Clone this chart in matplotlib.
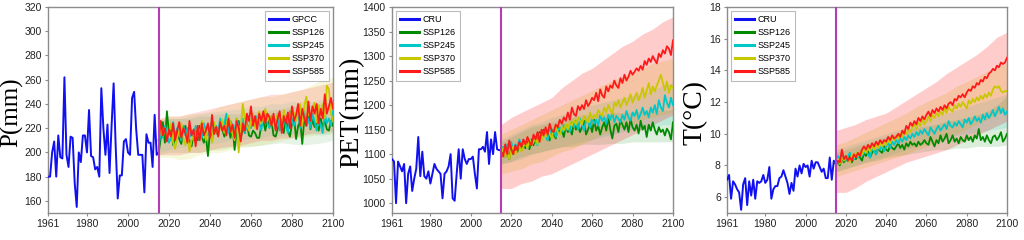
import matplotlib
matplotlib.use("Agg")
import matplotlib.pyplot as plt
import numpy as np

plt.rcParams["font.family"] = ["Liberation Sans", "DejaVu Sans"]

# %% Data.
obs_years = np.arange(1961, 2016)
ssp_years = np.arange(2015, 2101)
band_years = np.arange(2015, 2101, 5)
scenarios = ["SSP126", "SSP245", "SSP370", "SSP585"]

# Precipitation (mm)
p_obs = [180, 180, 200, 209, 180, 214, 196, 195, 262, 198,
         188, 213, 212, 175, 155, 200, 192, 214, 214, 200,
         235, 197, 196, 186, 188, 180, 253, 220, 198, 223,
         183, 222, 257, 205, 162, 181, 181, 209, 211, 200,
         198, 245, 250, 219, 198, 198, 198, 167, 215, 208,
         208, 188, 231, 198, 200]
p_126 = [200, 212, 225, 208, 234, 215, 222, 206, 212, 218,
         211, 207, 218, 222, 212, 210, 205, 215, 220, 210,
         222, 213, 208, 214, 197, 218, 210, 222, 217, 214,
         225, 219, 213, 228, 220, 212, 222, 202, 218, 226,
         212, 220, 216, 225, 214, 213, 218, 216, 212, 212,
         222, 226, 218, 228, 221, 226, 214, 213, 219, 226,
         222, 216, 230, 218, 213, 224, 229, 211, 222, 226,
         207, 228, 222, 234, 219, 227, 221, 224, 218, 228,
         221, 226, 219, 218, 226, 222]
p_245 = [205, 218, 212, 222, 215, 208, 212, 225, 214, 220,
         216, 210, 222, 214, 220, 212, 218, 210, 222, 216,
         219, 212, 224, 218, 214, 220, 226, 216, 222, 218,
         228, 220, 224, 232, 216, 226, 222, 218, 228, 222,
         220, 228, 216, 224, 230, 220, 226, 222, 230, 224,
         218, 228, 232, 224, 220, 230, 226, 222, 232, 218,
         226, 230, 222, 216, 234, 226, 222, 228, 232, 220,
         226, 234, 222, 228, 220, 232, 226, 218, 228, 222,
         216, 232, 224, 228, 222, 234]
p_370 = [210, 222, 214, 218, 212, 216, 224, 208, 203, 212,
         218, 224, 212, 206, 216, 201, 210, 214, 208, 220,
         213, 226, 218, 210, 221, 216, 208, 225, 219, 214,
         221, 227, 216, 223, 230, 224, 215, 210, 228, 200,
         220, 240, 228, 222, 218, 226, 232, 220, 227, 234,
         224, 230, 236, 226, 231, 222, 230, 225, 232, 228,
         219, 235, 227, 231, 223, 238, 232, 226, 234, 240,
         222, 238, 246, 231, 229, 236, 241, 225, 239, 232,
         240, 228, 255, 252, 232, 226]
p_585 = [210, 226, 214, 220, 209, 219, 213, 224, 210, 218,
         225, 212, 220, 216, 208, 226, 214, 219, 205, 222,
         210, 224, 214, 218, 224, 212, 231, 215, 221, 213,
         225, 218, 222, 214, 228, 217, 223, 212, 226, 220,
         209, 224, 218, 232, 226, 238, 222, 230, 219, 232,
         226, 234, 224, 232, 229, 222, 232, 218, 228, 234,
         216, 230, 224, 233, 220, 238, 226, 231, 240, 222,
         236, 228, 222, 242, 226, 238, 232, 240, 224, 236,
         228, 248, 232, 238, 245, 236]
p_lo = [[198, 200, 200, 200, 200, 202, 202, 204, 205, 205, 206, 207, 208, 207, 206, 207, 208, 210],
        [200, 202, 204, 205, 206, 207, 208, 210, 210, 212, 212, 214, 214, 215, 214, 215, 214, 216],
        [196, 196, 194, 195, 198, 200, 200, 202, 204, 205, 206, 208, 210, 212, 212, 214, 215, 215],
        [198, 198, 198, 200, 200, 202, 204, 205, 206, 208, 210, 210, 212, 212, 214, 216, 216, 218]]
p_hi = [[226, 228, 228, 228, 230, 230, 232, 232, 232, 234, 234, 235, 236, 238, 238, 240, 240, 240],
        [226, 228, 228, 230, 232, 233, 234, 235, 236, 238, 238, 240, 240, 242, 242, 242, 244, 245],
        [228, 230, 230, 232, 232, 234, 238, 240, 242, 244, 246, 246, 248, 250, 252, 256, 260, 262],
        [228, 230, 230, 232, 234, 236, 238, 240, 242, 244, 246, 248, 248, 250, 252, 254, 256, 258]]

# Potential evapotranspiration (mm)
pet_obs = [1090, 1085, 1000, 1085, 1075, 1065, 1080, 1000, 1060, 1075,
           1025, 1050, 1070, 1135, 1055, 1105, 1055, 1050, 1065, 1040,
           1060, 1080, 1070, 1065, 1060, 1010, 1060, 1065, 1075, 1100,
           1010, 1005, 1060, 1110, 1050, 1110, 1090, 1080, 1090, 1090,
           1095, 1060, 1030, 1110, 1110, 1115, 1105, 1145, 1080, 1130,
           1100, 1145, 1110, 1108, 1108]
pet_126 = [1100, 1110, 1095, 1105, 1090, 1115, 1100, 1112, 1105, 1118,
           1108, 1120, 1112, 1125, 1110, 1130, 1118, 1135, 1125, 1145,
           1130, 1150, 1138, 1145, 1128, 1150, 1140, 1132, 1155, 1142,
           1150, 1135, 1158, 1145, 1152, 1140, 1165, 1150, 1160, 1145,
           1155, 1168, 1140, 1150, 1162, 1145, 1170, 1148, 1158, 1140,
           1155, 1165, 1148, 1175, 1150, 1132, 1158, 1162, 1145, 1170,
           1160, 1150, 1165, 1145, 1172, 1155, 1148, 1160, 1142, 1168,
           1150, 1158, 1135, 1160, 1148, 1165, 1150, 1140, 1155, 1145,
           1150, 1138, 1152, 1145, 1130, 1165]
pet_245 = [1105, 1115, 1102, 1120, 1112, 1125, 1108, 1120, 1115, 1130,
           1118, 1128, 1122, 1112, 1130, 1120, 1135, 1125, 1118, 1140,
           1130, 1145, 1135, 1128, 1150, 1140, 1152, 1135, 1148, 1155,
           1145, 1160, 1150, 1158, 1145, 1165, 1155, 1168, 1150, 1172,
           1160, 1148, 1170, 1165, 1155, 1175, 1162, 1170, 1158, 1180,
           1168, 1175, 1162, 1180, 1170, 1185, 1165, 1178, 1172, 1165,
           1180, 1170, 1188, 1175, 1168, 1185, 1178, 1190, 1172, 1182,
           1195, 1180, 1188, 1175, 1195, 1185, 1200, 1182, 1210, 1195,
           1188, 1220, 1205, 1195, 1215, 1200]
pet_370 = [1100, 1112, 1095, 1105, 1090, 1108, 1115, 1100, 1110, 1118,
           1105, 1115, 1125, 1112, 1130, 1118, 1125, 1135, 1120, 1140,
           1128, 1145, 1135, 1150, 1142, 1132, 1150, 1158, 1145, 1140,
           1155, 1148, 1162, 1150, 1165, 1158, 1170, 1160, 1175, 1168,
           1160, 1178, 1170, 1165, 1185, 1172, 1180, 1175, 1190, 1182,
           1178, 1195, 1185, 1200, 1190, 1182, 1205, 1198, 1210, 1195,
           1205, 1215, 1200, 1210, 1222, 1205, 1215, 1225, 1210, 1220,
           1235, 1215, 1230, 1245, 1222, 1238, 1228, 1240, 1250, 1262,
           1245, 1230, 1248, 1225, 1240, 1235]
pet_585 = [1105, 1095, 1120, 1100, 1128, 1110, 1100, 1118, 1108, 1125,
           1115, 1130, 1120, 1135, 1125, 1118, 1140, 1130, 1145, 1125,
           1150, 1138, 1155, 1140, 1162, 1148, 1145, 1160, 1155, 1170,
           1162, 1175, 1168, 1185, 1170, 1195, 1182, 1178, 1198, 1190,
           1200, 1192, 1210, 1198, 1205, 1215, 1210, 1225, 1208, 1232,
           1220, 1215, 1238, 1228, 1240, 1235, 1250, 1240, 1235, 1255,
           1245, 1262, 1250, 1258, 1270, 1262, 1268, 1275, 1270, 1280,
           1272, 1290, 1282, 1295, 1288, 1300, 1292, 1285, 1305, 1298,
           1312, 1305, 1320, 1315, 1302, 1332]
pet_lo = [[1080, 1085, 1095, 1100, 1105, 1110, 1115, 1115, 1120, 1120, 1120, 1122, 1122, 1125, 1125, 1125, 1125, 1125],
          [1080, 1085, 1090, 1100, 1105, 1110, 1115, 1120, 1125, 1130, 1135, 1140, 1145, 1150, 1150, 1155, 1160, 1160],
          [1060, 1065, 1070, 1080, 1085, 1095, 1105, 1110, 1120, 1130, 1140, 1145, 1155, 1160, 1170, 1175, 1180, 1185],
          [1030, 1030, 1040, 1045, 1055, 1060, 1070, 1080, 1090, 1100, 1110, 1120, 1130, 1140, 1150, 1160, 1170, 1180]]
pet_hi = [[1125, 1135, 1145, 1155, 1160, 1165, 1170, 1175, 1180, 1180, 1182, 1185, 1185, 1185, 1188, 1188, 1190, 1190],
          [1130, 1140, 1150, 1160, 1165, 1175, 1180, 1190, 1195, 1200, 1205, 1210, 1215, 1220, 1225, 1230, 1240, 1245],
          [1140, 1150, 1160, 1170, 1180, 1190, 1200, 1210, 1220, 1230, 1240, 1250, 1258, 1265, 1275, 1285, 1290, 1295],
          [1160, 1175, 1185, 1195, 1205, 1215, 1235, 1250, 1265, 1275, 1290, 1305, 1320, 1330, 1345, 1355, 1370, 1380]]

# Temperature (degC)
t_obs = [7.1, 7.4, 5.9, 7.0, 6.8, 6.5, 6.3, 5.2, 6.8, 7.2,
         5.5, 7.0, 6.1, 7.1, 5.9, 7.0, 6.9, 7.0, 7.4, 6.9,
         7.1, 7.9, 5.9, 6.5, 6.7, 6.7, 7.2, 7.3, 7.7, 7.3,
         6.9, 6.2, 6.9, 6.4, 7.8, 7.3, 8.0, 7.5, 8.1, 7.9,
         8.0, 7.3, 8.3, 7.8, 8.2, 8.2, 7.9, 7.6, 7.8, 7.2,
         7.2, 8.5, 7.1, 8.3, 8.1]
t_126 = [8.1, 8.3, 8.0, 8.5, 8.2, 8.4, 8.3, 8.6, 8.2, 8.5,
         8.4, 8.7, 8.5, 8.3, 8.8, 8.6, 8.9, 8.5, 8.8, 9.0,
         8.7, 9.1, 8.9, 8.8, 9.2, 9.0, 8.9, 9.3, 9.1, 9.0,
         9.2, 9.4, 9.1, 9.3, 9.0, 9.4, 9.2, 9.5, 9.3, 9.4,
         9.2, 9.5, 9.3, 9.4, 9.6, 9.4, 9.3, 9.8, 9.5, 9.2,
         9.6, 9.4, 9.9, 9.5, 9.7, 10.0, 9.4, 9.6, 9.9, 9.5,
         9.7, 9.4, 9.8, 9.6, 9.5, 9.9, 9.6, 9.8, 9.5, 9.9,
         9.7, 10.3, 9.6, 9.8, 9.5, 9.9, 9.6, 9.4, 9.8, 9.9,
         9.6, 9.8, 10.1, 9.5, 9.7, 10.0]
t_245 = [8.3, 8.6, 8.4, 8.7, 8.5, 8.3, 8.6, 8.8, 8.5, 8.4,
         8.7, 8.5, 8.9, 8.6, 8.8, 9.0, 8.7, 8.5, 9.1, 8.9,
         8.7, 9.1, 9.0, 9.3, 8.9, 9.2, 9.4, 9.1, 9.5, 9.3,
         9.6, 9.4, 9.7, 9.5, 9.8, 9.6, 9.9, 9.7, 10.0, 9.8,
         10.1, 9.9, 10.2, 10.0, 10.3, 10.1, 9.9, 10.4, 10.2, 10.0,
         10.3, 10.5, 10.2, 10.4, 10.6, 10.3, 10.8, 10.5, 10.4, 10.7,
         10.5, 10.8, 10.6, 10.4, 10.9, 10.7, 11.0, 10.6, 10.8, 11.1,
         10.8, 11.0, 10.7, 11.2, 10.9, 11.3, 11.0, 11.2, 11.5, 11.1,
         11.4, 11.7, 11.3, 11.6, 11.2, 11.4]
t_370 = [8.2, 8.4, 8.1, 8.5, 8.3, 8.6, 8.4, 8.2, 8.7, 8.5,
         8.8, 8.6, 8.9, 8.7, 9.0, 8.8, 9.1, 8.9, 9.2, 9.0,
         9.3, 9.1, 9.4, 9.2, 9.5, 9.3, 9.6, 9.4, 9.8, 9.6,
         9.9, 9.7, 10.0, 9.8, 10.2, 10.0, 10.3, 10.1, 10.4, 10.6,
         10.3, 10.7, 10.5, 10.9, 10.6, 10.8, 11.1, 10.8, 11.2, 11.0,
         11.3, 11.1, 11.4, 11.2, 11.6, 11.3, 11.7, 11.5, 11.4, 11.8,
         11.6, 11.9, 11.7, 12.0, 11.8, 11.6, 12.1, 11.9, 12.2, 12.0,
         12.3, 12.1, 12.4, 12.2, 12.5, 12.3, 12.6, 12.4, 12.8, 13.0,
         12.9, 13.0, 12.7, 12.6, 12.7, 12.7]
t_585 = [8.0, 8.3, 8.2, 9.0, 8.4, 8.6, 8.3, 8.5, 8.3, 8.7,
         8.5, 8.8, 8.6, 9.0, 9.2, 9.0, 9.3, 9.1, 9.4, 9.2,
         9.5, 9.3, 9.6, 9.4, 9.6, 9.5, 9.8, 9.6, 9.9, 9.7,
         9.8, 10.0, 9.8, 10.2, 10.0, 10.5, 10.3, 10.7, 10.5, 10.8,
         10.6, 11.0, 10.8, 11.1, 10.9, 11.2, 11.4, 11.1, 11.5, 11.3,
         11.6, 11.4, 11.7, 11.5, 11.8, 11.6, 11.9, 12.0, 11.8, 12.2,
         12.1, 12.4, 12.3, 12.5, 12.3, 12.6, 12.8, 12.7, 13.0, 12.9,
         13.2, 13.1, 13.4, 13.3, 13.6, 13.5, 13.8, 13.9, 14.1, 14.0,
         14.3, 14.2, 14.5, 14.4, 14.5, 14.8]
t_lo = [[7.6, 7.8, 8.0, 8.2, 8.3, 8.5, 8.6, 8.7, 8.8, 8.9, 9.0, 9.0, 9.1, 9.1, 9.2, 9.2, 9.2, 9.3],
        [7.6, 7.8, 8.0, 8.2, 8.4, 8.6, 8.8, 9.0, 9.2, 9.4, 9.6, 9.7, 9.9, 10.0, 10.1, 10.2, 10.3, 10.4],
        [7.3, 7.5, 7.7, 7.9, 8.1, 8.3, 8.5, 8.7, 9.0, 9.2, 9.5, 9.8, 10.0, 10.3, 10.6, 10.9, 11.2, 11.5],
        [6.3, 6.3, 6.6, 7.0, 7.3, 7.6, 7.9, 8.2, 8.4, 8.6, 8.8, 9.0, 9.3, 9.6, 9.9, 10.2, 10.5, 10.8]]
t_hi = [[8.8, 9.0, 9.2, 9.4, 9.6, 9.8, 10.0, 10.2, 10.4, 10.5, 10.6, 10.8, 10.9, 11.0, 11.2, 11.4, 11.8, 12.4],
        [9.0, 9.2, 9.4, 9.6, 9.8, 10.0, 10.2, 10.4, 10.7, 10.9, 11.1, 11.3, 11.5, 11.7, 11.9, 12.1, 12.3, 12.5],
        [9.3, 9.5, 9.8, 10.1, 10.4, 10.7, 11.0, 11.3, 11.7, 12.0, 12.3, 12.6, 13.0, 13.3, 13.6, 13.9, 14.2, 14.5],
        [10.2, 10.4, 10.6, 10.9, 11.1, 11.3, 11.7, 12.1, 12.5, 12.9, 13.3, 13.8, 14.2, 14.6, 15.0, 15.5, 16.1, 16.4]]

# %% Styling.
OBS_COLOR = "#1010f0"
SSP_COLORS = ["#008a00", "#00c8c8", "#c8c800", "#ff1a1a"]
BAND_ALPHA = [0.14, 0.14, 0.2, 0.22]
VLINE_COLOR = "#b43cb4"
SPINE_COLOR = "#8c8c8c"

panels = [
    {"obs": p_obs, "obs_label": "GPCC", "ssp": [p_126, p_245, p_370, p_585],
     "lo": p_lo, "hi": p_hi, "ylabel": "P(mm)", "ylim": (150, 320),
     "yticks": np.arange(160, 321, 20), "legend_loc": "upper right",
     "pos": [0.0469, 0.1125, 0.2783, 0.8583], "labelx": -0.088,
     "label_size": 18, "band_scale": 0.7},
    {"obs": pet_obs, "obs_label": "CRU", "ssp": [pet_126, pet_245, pet_370, pet_585],
     "lo": pet_lo, "hi": pet_hi, "ylabel": "PET(mm)", "ylim": (980, 1400),
     "yticks": np.arange(1000, 1401, 50), "legend_loc": "upper left",
     "pos": [0.3828, 0.1125, 0.2744, 0.8583], "labelx": -0.100,
     "label_size": 20, "band_scale": 1.0},
    {"obs": t_obs, "obs_label": "CRU", "ssp": [t_126, t_245, t_370, t_585],
     "lo": t_lo, "hi": t_hi, "ylabel": "T(°C)", "ylim": (5, 18),
     "yticks": np.arange(6, 19, 2), "legend_loc": "upper left",
     "pos": [0.7100, 0.1125, 0.2734, 0.8583], "labelx": -0.068,
     "label_size": 20, "band_scale": 1.0},
]

fig = plt.figure(figsize=(10.24, 2.4), dpi=100)

for cfg in panels:
    ax = fig.add_axes(cfg["pos"])

    # Uncertainty ranges first, then the lines on top.
    for lo, hi, color, alpha in zip(cfg["lo"], cfg["hi"], SSP_COLORS, BAND_ALPHA):
        ax.fill_between(band_years, lo, hi, color=color,
                        alpha=alpha * cfg["band_scale"], linewidth=0, zorder=1)

    ax.plot(obs_years, cfg["obs"], color=OBS_COLOR, lw=1.4, label=cfg["obs_label"], zorder=3)
    for vals, color, name in zip(cfg["ssp"], SSP_COLORS, scenarios):
        ax.plot(ssp_years, vals, color=color, lw=1.3, label=name, zorder=3)

    ax.axvline(2015, color=VLINE_COLOR, lw=1.5, zorder=4)

    ax.set_xlim(1961, 2100)
    ax.set_ylim(*cfg["ylim"])
    ax.set_xticks([1961, 1980, 2000, 2020, 2040, 2060, 2080, 2100])
    ax.set_yticks(cfg["yticks"])
    ax.tick_params(labelsize=7.5, length=2.5, width=0.8, color=SPINE_COLOR,
                   pad=2, labelcolor="#222222")
    for sp in ax.spines.values():
        sp.set_color(SPINE_COLOR)
        sp.set_linewidth(1.0)

    ax.set_ylabel(cfg["ylabel"], fontsize=cfg["label_size"],
                  family=["Liberation Serif", "DejaVu Serif"])
    ax.yaxis.set_label_coords(cfg["labelx"], 0.49)

    leg = ax.legend(loc=cfg["legend_loc"], fontsize=6.5, handlelength=2.1,
                    handletextpad=0.4, labelspacing=0.45, borderpad=0.5,
                    fancybox=False, framealpha=1, edgecolor="#bbbbbb",
                    borderaxespad=0.4)
    leg.get_frame().set_linewidth(0.8)
    for line in leg.get_lines():
        line.set_linewidth(2.2)

fig.savefig("out.png", dpi=100, facecolor="white")
